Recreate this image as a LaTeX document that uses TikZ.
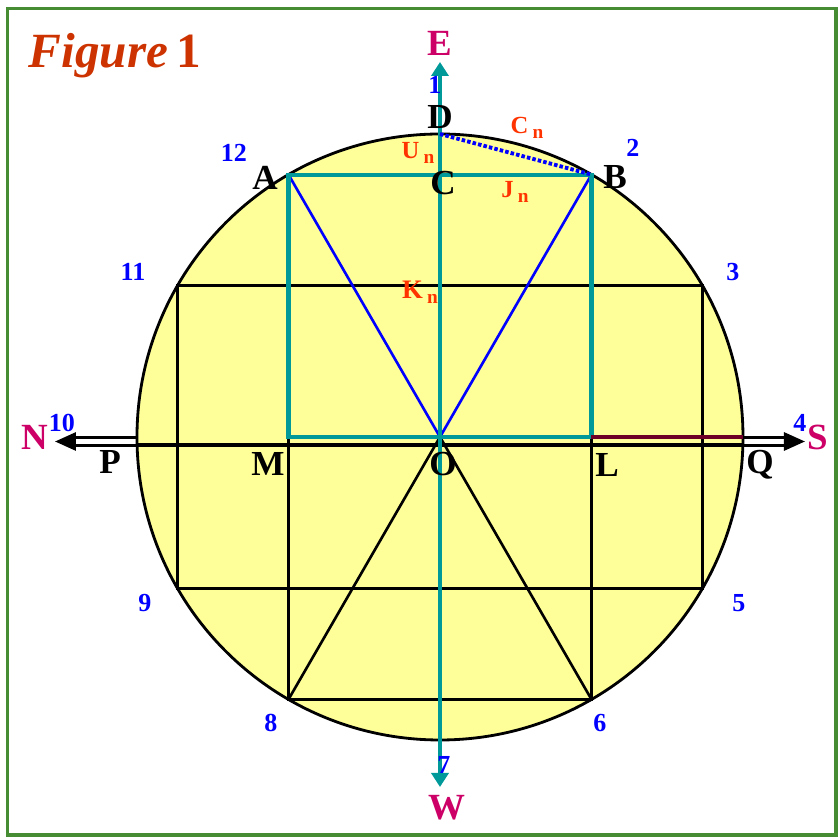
\documentclass[tikz,border=0pt]{standalone}
\usepackage{fontspec}
\setmainfont{Liberation Serif}
\usetikzlibrary{arrows.meta}
\definecolor{framegreen}{RGB}{70,140,50}
\definecolor{circfill}{RGB}{255,255,153}
\definecolor{tealc}{RGB}{0,153,153}
\definecolor{maroonc}{RGB}{110,0,40}
\definecolor{dirmagenta}{RGB}{204,0,102}
\definecolor{numblue}{RGB}{0,0,255}
\definecolor{lblred}{RGB}{255,51,0}
\definecolor{figred}{RGB}{204,51,0}
\newcommand{\lowsub}[1]{\,\raisebox{-0.4ex}{\fontsize{5.5}{6}\selectfont #1}}

\begin{document}
\begin{tikzpicture}[
	ptlbl/.style={font=\fontsize{10}{12}\selectfont\bfseries, inner sep=0pt},
	dirlbl/.style={font=\fontsize{10.5}{12}\selectfont\bfseries, text=dirmagenta, inner sep=0pt},
	numlbl/.style={font=\fontsize{7.4}{8}\selectfont\bfseries, text=numblue, inner sep=0pt},
	redlbl/.style={font=\fontsize{7}{8}\selectfont\bfseries, text=lblred, inner sep=0pt},
	thinblk/.style={line width=0.75pt, black},
	tealline/.style={line width=1.15pt, tealc},
]
	\useasboundingbox (-4.40,-4.00) rectangle (3.99,4.37);
	\draw[line width=1.1pt, framegreen] (-4.325,-3.98) rectangle (3.96,4.285);
	\def\R{3.03}
	\coordinate (O) at (0,0);
	\foreach \i in {1,...,12} {
		\pgfmathsetmacro{\ang}{120 - 30*\i}
		\coordinate (K\i) at (\ang:\R);
	}
	\coordinate (A) at (K12);
	\coordinate (B) at (K2);
	\coordinate (D) at (K1);
	\coordinate (C) at (O |- A);
	\coordinate (M) at (A |- O);
	\coordinate (L) at (B |- O);
	\coordinate (P) at (-\R,-0.08);
	\coordinate (Q) at (\R,-0.08);
	\coordinate (Qt) at (\R,0);
	\coordinate (Nt) at (-3.85,-0.045);
	\coordinate (St) at (3.65,-0.045);
	\coordinate (Et) at (0,3.75);
	\coordinate (Wt) at (0,-3.50);

	\draw[line width=0.85pt, double=white, double distance=1.2pt,
		{Triangle[length=0.21cm, width=0.18cm]}-{Triangle[length=0.21cm, width=0.18cm]}] (Nt) -- (St);
	\fill[circfill] (O) circle (\R);
	\draw[line width=0.8pt] (O) circle (\R);
	\draw[thinblk] (K11) -- (K3) -- (K5) -- (K9) -- cycle;
	\draw[thinblk] (M) -- (K8) -- (K6) -- (L);
	\draw[thinblk] (K8) -- (O) -- (K6);
	\draw[line width=0.9pt] (P) -- (Q);
	\draw[line width=0.75pt, numblue] (A) -- (O) -- (B);
	\draw[tealline] (A) -- (B) -- (L) -- (M) -- cycle;
	\draw[tealline, {Triangle[length=0.14cm, width=0.17cm]}-{Triangle[length=0.14cm, width=0.17cm]}] (Wt) -- (Et);
	\draw[line width=1.15pt, maroonc] (L) -- (Qt);
	\draw[line width=1.1pt, numblue, dash pattern=on 1pt off 0.6pt] (D) -- (B);

	\node[anchor=base west, inner sep=0pt, text=figred, font=\fontsize{14}{16}\selectfont\bfseries] (title) at (-4.12,3.69) {\itshape Figure\,\upshape 1};

	\node[dirlbl] (lblE) at (0,3.94) {E};
	\node[dirlbl] (lblW) at (0.07,-3.71) {W};
	\node[dirlbl] (lblN) at (-4.05,0) {N};
	\node[dirlbl] (lblS) at (3.78,0) {S};

	\node[ptlbl] (lblA) at (-1.75,2.59) {A};
	\node[ptlbl] (lblB) at (1.75,2.60) {B};
	\node[ptlbl] (lblC) at (0.03,2.54) {C};
	\node[ptlbl] (lblD) at (0,3.20) {D};
	\node[ptlbl] (lblP) at (-3.30,-0.25) {P};
	\node[ptlbl] (lblM) at (-1.72,-0.27) {M};
	\node[ptlbl] (lblO) at (0.03,-0.27) {O};
	\node[ptlbl] (lblL) at (1.67,-0.28) {L};
	\node[ptlbl] (lblQ) at (3.20,-0.28) {Q};

	\foreach \n/\x/\y in {1/-0.05/3.52, 2/1.93/2.89, 3/2.93/1.65, 4/3.60/0.14,
		5/2.99/-1.66, 6/1.60/-2.86, 7/0.04/-3.28, 8/-1.69/-2.86,
		9/-2.95/-1.66, 10/-3.78/0.14, 11/-3.07/1.65, 12/-2.06/2.84}
		\node[numlbl] (num\n) at (\x,\y) {\n};

	\node[redlbl] (lblCn) at (0.87,3.09) {C\lowsub{n}};
	\node[redlbl] (lblUn) at (-0.22,2.84) {U\lowsub{n}};
	\node[redlbl] (lblJn) at (0.75,2.45) {J\lowsub{n}};
	\node[redlbl, font=\fontsize{7.6}{9}\selectfont\bfseries] (lblKn) at (-0.20,1.45) {K\lowsub{n}};
\end{tikzpicture}
\end{document}
